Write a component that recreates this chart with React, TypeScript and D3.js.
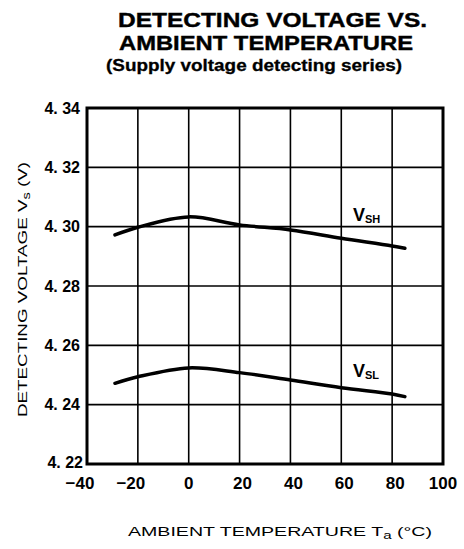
import React from "react";
import * as d3 from "d3";

const temps = [-29, -20, 0, 20, 40, 60, 80, 85];
const vsh = [4.2972, 4.2998, 4.3033, 4.3006, 4.2989, 4.2961, 4.2935, 4.2927];
const vsl = [4.2472, 4.2494, 4.2524, 4.2508, 4.2483, 4.2457, 4.2436, 4.2427];
const xTicks = [-40, -20, 0, 20, 40, 60, 80, 100];
const yTicks = [4.22, 4.24, 4.26, 4.28, 4.3, 4.32, 4.34];
const yTickLabels = ["4. 22", "4. 24", "4. 26", "4. 28", "4. 30", "4. 32", "4. 34"];

const W = 464;
const H = 549;
const L = 87, R = 443, T = 108, B = 464;
const FONT = "'Liberation Sans', Arial, Helvetica, sans-serif";

export default function App() {
  const x = d3.scaleLinear().domain([-40, 100]).range([L, R]);
  const y = d3.scaleLinear().domain([4.22, 4.34]).range([B, T]);
  const line = d3
    .line<number>()
    .x((_, i) => x(temps[i]))
    .y((d) => y(d))
    .curve(d3.curveCatmullRom.alpha(0.5));

  const xLabelShift = (t: number) => (t < 0 ? -7 : t > 0 && t < 100 ? 3 : 0);

  return (
    <svg
      width={W}
      height={H}
      style={{ position: "absolute", left: 0, top: 0, background: "#fff" }}
      fontFamily={FONT}
    >
      <rect x={0} y={0} width={W} height={H} fill="#fff" />
      {/* Titles */}
      <text x={118} y={27} fontSize={20} fontWeight="bold" textLength={309} lengthAdjust="spacingAndGlyphs" stroke="#000" strokeWidth={0.4}>
        DETECTING VOLTAGE VS.
      </text>
      <text x={119} y={50} fontSize={20} fontWeight="bold" textLength={294} lengthAdjust="spacingAndGlyphs" stroke="#000" strokeWidth={0.4}>
        AMBIENT TEMPERATURE
      </text>
      <text x={106} y={71} fontSize={17} fontWeight="bold" textLength={296} lengthAdjust="spacingAndGlyphs" stroke="#000" strokeWidth={0.3}>
        (Supply voltage detecting series)
      </text>

      {/* Grid */}
      {xTicks.slice(1, -1).map((t) => (
        <line key={"gx" + t} x1={x(t)} x2={x(t)} y1={T} y2={B} stroke="#000" strokeWidth={1.6} />
      ))}
      {yTicks.slice(1, -1).map((t) => (
        <line key={"gy" + t} x1={L} x2={R} y1={y(t)} y2={y(t)} stroke="#000" strokeWidth={1.6} />
      ))}
      <rect x={L} y={T} width={R - L} height={B - T} fill="none" stroke="#000" strokeWidth={3} />

      {/* Curves */}
      <path d={line(vsh) || ""} fill="none" stroke="#000" strokeWidth={3.5} strokeLinecap="round" />
      <path d={line(vsl) || ""} fill="none" stroke="#000" strokeWidth={3.5} strokeLinecap="round" />

      {/* Curve labels */}
      <text x={353} y={221} fontSize={18} fontWeight="bold">
        V<tspan fontSize={11} dy={2}>SH</tspan>
      </text>
      <text x={353} y={377} fontSize={18} fontWeight="bold">
        V<tspan fontSize={11} dy={2}>SL</tspan>
      </text>

      {/* Y tick labels */}
      {yTicks.map((t, i) => (
        <text key={"yl" + t} x={t === 4.22 ? 83 : 80} y={y(t) + (t === 4.22 ? 3.5 : 5.5)} fontSize={16} fontWeight="bold" textAnchor="end">
          {yTickLabels[i]}
        </text>
      ))}
      {/* X tick labels */}
      {xTicks.map((t) => (
        <text key={"xl" + t} x={x(t) + xLabelShift(t)} y={489} fontSize={17} fontWeight="bold" textAnchor="middle">
          {t < 0 ? "\u2212" + Math.abs(t) : String(t)}
        </text>
      ))}

      {/* Axis titles */}
      <text x={128} y={536} fontSize={13} textLength={304} lengthAdjust="spacingAndGlyphs">
        AMBIENT TEMPERATURE  T<tspan fontSize={10} dy={3}>a</tspan>
        <tspan dy={-3}> (°C)</tspan>
      </text>
      <text
        transform={`translate(27, 417) rotate(-90)`}
        x={0}
        y={0}
        fontSize={13}
        textLength={255}
        lengthAdjust="spacingAndGlyphs"
      >
        DETECTING VOLTAGE  V<tspan fontSize={10} dy={3}>s</tspan>
        <tspan dy={-3}> (V)</tspan>
      </text>
    </svg>
  );
}
